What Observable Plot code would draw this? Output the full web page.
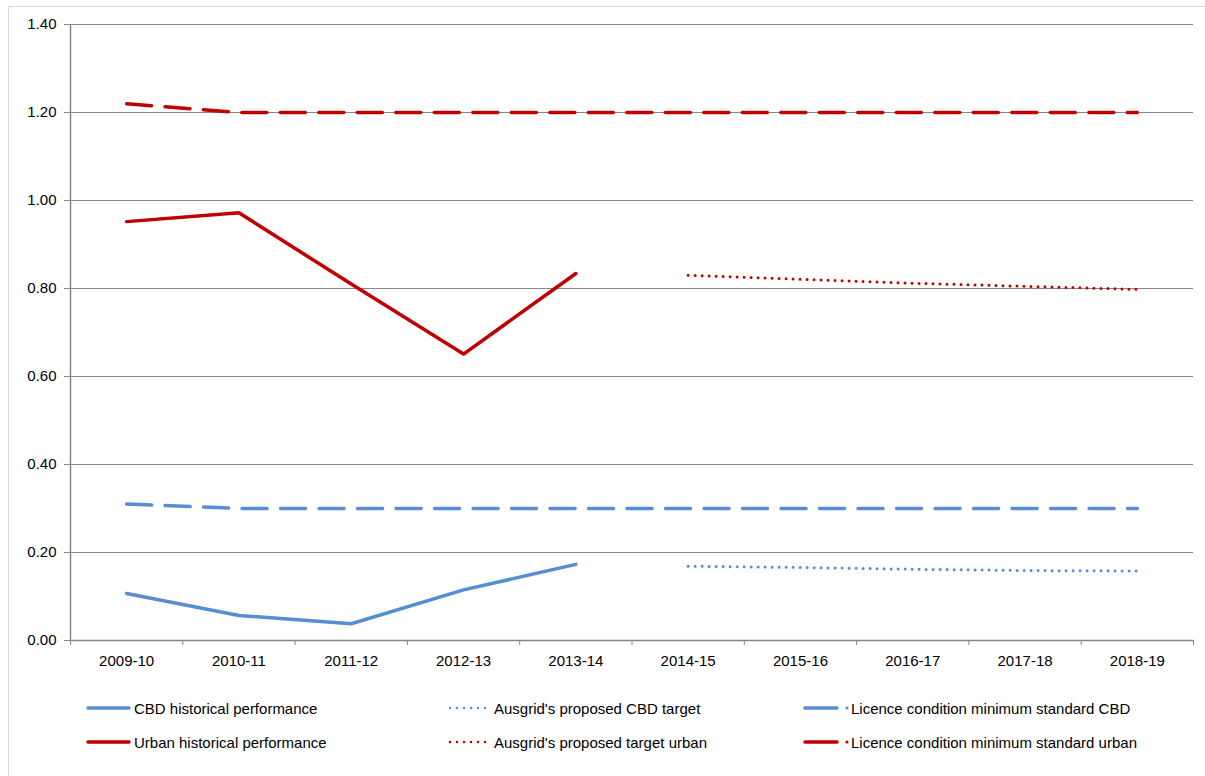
<!DOCTYPE html>
<html>
<head>
<meta charset="utf-8">
<script src="https://cdn.jsdelivr.net/npm/d3@7"></script>
<script src="https://cdn.jsdelivr.net/npm/@observablehq/plot@0.6"></script>
<style>
  body { margin: 0; background: #fff; font-family: "Liberation Sans", Arial, sans-serif; }
  #frame { position: absolute; left: 8px; top: 6px; width: 1197px; height: 770px;
           border-left: 1px solid #d9d9d9; border-top: 1px solid #d9d9d9; }
  #chart { position: absolute; left: 0; top: 0; }
  #legend { position: absolute; left: 0; top: 0; width: 1205px; height: 776px; pointer-events: none; }
  .item { position: absolute; display: flex; align-items: center; font-size: 15px; color: #000; white-space: nowrap; }
  .item svg { margin-right: 2px; }
</style>
</head>
<body>
<div id="frame"></div>
<div id="chart"></div>
<div id="legend"></div>
<script>
// Financial years on the category axis
const years = ["2009-10", "2010-11", "2011-12", "2012-13", "2013-14",
               "2014-15", "2015-16", "2016-17", "2017-18", "2018-19"];
const historicalYears = ["2009-10", "2010-11", "2011-12", "2012-13", "2013-14"];
const targetYears = ["2014-15", "2015-16", "2016-17", "2017-18", "2018-19"];

// Series values
const cbdHistorical   = [0.107, 0.057, 0.038, 0.115, 0.173];
const urbanHistorical = [0.952, 0.972, 0.810, 0.651, 0.834];
const cbdTarget       = [0.169, 0.166, 0.162, 0.159, 0.158];
const urbanTarget     = [0.830, 0.821, 0.812, 0.805, 0.798];
const cbdLicence      = [0.31, 0.30, 0.30, 0.30, 0.30, 0.30, 0.30, 0.30, 0.30, 0.30];
const urbanLicence    = [1.22, 1.20, 1.20, 1.20, 1.20, 1.20, 1.20, 1.20, 1.20, 1.20];

// Value axis ticks
const yTicks = [0, 0.2, 0.4, 0.6, 0.8, 1.0, 1.2, 1.4];

const blue = "#558ed5";
const red = "#c00000";
const axisGray = "#868686";

const rows = (cats, vals) => vals.map((v, k) => ({x: years.indexOf(cats[k]), y: v}));

// category boundaries (tick marks sit between categories)
const boundaries = d3.range(years.length + 1).map(i => i - 0.5);

const series = [
  {name: "CBD historical performance", data: rows(historicalYears, cbdHistorical), color: blue, kind: "solid"},
  {name: "Ausgrid's proposed CBD target", data: rows(targetYears, cbdTarget), color: blue, kind: "dot"},
  {name: "Licence condition minimum standard CBD", data: rows(years, cbdLicence), color: blue, kind: "dash"},
  {name: "Urban historical performance", data: rows(historicalYears, urbanHistorical), color: red, kind: "solid"},
  {name: "Ausgrid's proposed target urban", data: rows(targetYears, urbanTarget), color: red, kind: "dot"},
  {name: "Licence condition minimum standard urban", data: rows(years, urbanLicence), color: red, kind: "dash"}
];

const styleFor = (kind) => {
  if (kind === "solid") return {strokeWidth: 3.5, strokeLinecap: "round", strokeLinejoin: "round"};
  if (kind === "dot") return {strokeWidth: 3, strokeLinecap: "round", strokeDasharray: "0,7"};
  return {strokeWidth: 3.5, strokeLinecap: "round", strokeDasharray: "25,13.5"};
};

const chart = Plot.plot({
  width: 1205,
  height: 680,
  marginLeft: 70,
  marginRight: 12,
  marginTop: 24,
  marginBottom: 40,
  style: {background: "transparent", fontFamily: "'Liberation Sans', Arial, sans-serif"},
  x: {type: "linear", domain: [-0.5, years.length - 0.5]},
  y: {domain: [0, 1.4]},
  marks: [
    Plot.ruleY(yTicks.filter(v => v > 0), {stroke: axisGray, strokeWidth: 1}),
    Plot.axisY(yTicks, {tickSize: 6, tickPadding: 8, tickFormat: d => d.toFixed(2),
                        fontSize: 15, stroke: axisGray, fill: "#000", label: null}),
    Plot.axisX(boundaries, {tickSize: 5, tickFormat: () => "", stroke: axisGray, label: null}),
    Plot.axisX(d3.range(years.length), {tickSize: 0, tickPadding: 15, tickFormat: i => years[i],
                                        fontSize: 15, fill: "#000", label: null}),
    Plot.ruleX([-0.5], {stroke: axisGray, strokeWidth: 1.5}),
    Plot.ruleY([0], {stroke: axisGray, strokeWidth: 1.5}),
    ...series.map(s => Plot.line(s.data, {x: "x", y: "y", stroke: s.color, ...styleFor(s.kind)}))
  ]
});
document.getElementById("chart").appendChild(chart);

// Legend: three columns, two rows
const legend = document.getElementById("legend");
const colX = [86, 446, 803];
const rowY = [708, 742];
series.forEach((s, k) => {
  const col = k % 3, row = Math.floor(k / 3);
  const item = document.createElement("div");
  item.className = "item";
  item.style.left = colX[col] + "px";
  item.style.top = (rowY[row] - 10) + "px";
  item.style.height = "20px";
  let swatch;
  if (s.kind === "solid") {
    swatch = `<line x1="2" y1="10" x2="43" y2="10" stroke="${s.color}" stroke-width="3.5" stroke-linecap="round"/>`;
  } else if (s.kind === "dot") {
    swatch = `<line x1="4" y1="10" x2="41" y2="10" stroke="${s.color}" stroke-width="2.5" stroke-linecap="round" stroke-dasharray="0,7"/>`;
  } else {
    swatch = `<line x1="2" y1="10" x2="34" y2="10" stroke="${s.color}" stroke-width="3.5" stroke-linecap="round"/>` +
             `<circle cx="44" cy="10" r="1.6" fill="${s.color}"/>`;
  }
  item.innerHTML = `<svg width="46" height="20">${swatch}</svg><span>${s.name}</span>`;
  legend.appendChild(item);
});
</script>
</body>
</html>
